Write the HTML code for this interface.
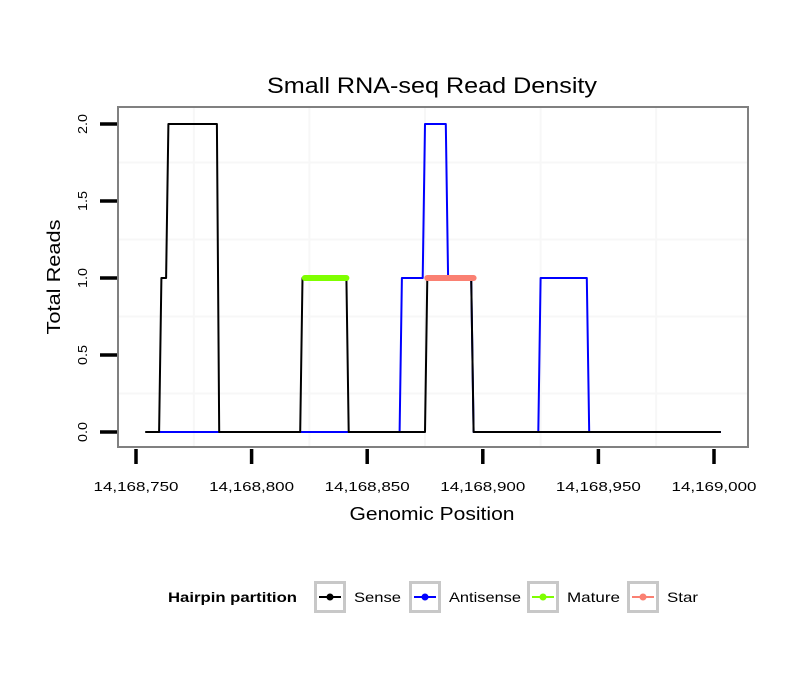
<!DOCTYPE html>
<html><head><meta charset="utf-8"><style>
body{margin:0;background:#fff;font-family:"Liberation Sans",sans-serif}
svg{display:block}
</style></head><body>
<svg id="chart" width="810" height="690" viewBox="0 0 810 690">
<rect width="810" height="690" fill="#fff"/>
<text x="432" y="93" text-anchor="middle" font-size="22" textLength="330" lengthAdjust="spacingAndGlyphs">Small RNA-seq Read Density</text>
<g id="grid"></g>
<g id="series"></g>
<rect x="118" y="107" width="630" height="340" fill="none" stroke="#808080" stroke-width="2"/>
<g id="axes"></g>
<text x="432" y="520" text-anchor="middle" font-size="18" textLength="165" lengthAdjust="spacingAndGlyphs">Genomic Position</text>
<text transform="translate(60,277) rotate(-90)" text-anchor="middle" font-size="18" textLength="115" lengthAdjust="spacingAndGlyphs">Total Reads</text>
<g>
<text x="168" y="602" font-size="14" font-weight="bold" textLength="129" lengthAdjust="spacingAndGlyphs">Hairpin partition</text>
<g id="legend"></g>
</g>
</svg>
<script>
const xTicks=[14168750,14168800,14168850,14168900,14168950,14169000];
const xTickLabels=["14,168,750","14,168,800","14,168,850","14,168,900","14,168,950","14,169,000"];
const xGrid=[14168775,14168825,14168875,14168925,14168975];
const yTicks=[0,0.5,1,1.5,2];
const yTickLabels=["0.0","0.5","1.0","1.5","2.0"];
const yGrid=[0.25,0.75,1.25,1.75];
const sensePos=[14168754,14168760,14168761,14168763,14168764,14168785,14168786,14168821,14168822,14168841,14168842,14168875,14168876,14168895,14168896,14169003];
const senseVal=[0,0,1,1,2,2,0,0,1,1,0,0,1,1,0,0];
const antiPos=[14168760,14168864,14168865,14168874,14168875,14168884,14168885,14168895,14168896,14168924,14168925,14168945,14168946,14169003];
const antiVal=[0,0,1,1,2,2,1,1,0,0,1,1,0,0];
const maturePos=[14168823,14168841];
const matureVal=[1,1];
const starPos=[14168876,14168896];
const starVal=[1,1];
const legendLabels=["Sense","Antisense","Mature","Star"];
const legendColors=["#000000","#0000ff","#7fff00","#fa8072"];
const legendLens=[47,72,53,31];

const NS="http://www.w3.org/2000/svg";
const X=v=>136+(v-14168750)*(578/250);
const Y=v=>432-v*154;
function mk(tag,attrs,parent){const e=document.createElementNS(NS,tag);for(const k in attrs)e.setAttribute(k,attrs[k]);parent.appendChild(e);return e;}
const grid=document.getElementById('grid'),series=document.getElementById('series'),axes=document.getElementById('axes'),legend=document.getElementById('legend');
xGrid.forEach(v=>{const l=mk('line',{x1:X(v),x2:X(v),y1:108,y2:446,stroke:'#f7f7f7','stroke-width':2},grid);

});
yGrid.forEach(v=>{const l=mk('line',{x1:119,x2:747,y1:Y(v),y2:Y(v),stroke:'#f7f7f7','stroke-width':2},grid);

});
function path(pos,val,color,w,name,cap){
const d=pos.map((p,i)=>(i?'L':'M')+X(p).toFixed(1)+','+Y(val[i]).toFixed(1)).join('');
const e=mk('path',{d:d,fill:'none',stroke:color,'stroke-width':w,'stroke-linecap':cap,'stroke-linejoin':'round'},series);

}
path(antiPos,antiVal,'#0000ff',2,'antisense-line','butt');
path(sensePos,senseVal,'#000000',2,'sense-line','butt');
path(maturePos,matureVal,'#7fff00',6,'mature-segment','round');
path(starPos,starVal,'#fa8072',6,'star-segment','round');
xTicks.forEach((v,i)=>{const t=mk('line',{x1:X(v),x2:X(v),y1:449,y2:464,stroke:'#000','stroke-width':3.5},axes);


const tx=mk('text',{x:X(v),y:491,'text-anchor':'middle','font-size':13,textLength:85,lengthAdjust:'spacingAndGlyphs'},axes);tx.textContent=xTickLabels[i];

});
yTicks.forEach((v,i)=>{const t=mk('line',{x1:100,x2:117,y1:Y(v),y2:Y(v),stroke:'#000','stroke-width':3.5},axes);


const tx=mk('text',{transform:`translate(87,${Y(v)}) rotate(-90)`,'text-anchor':'middle','font-size':13,textLength:20,lengthAdjust:'spacingAndGlyphs'},axes);tx.textContent=yTickLabels[i];

});
const boxX=[314,409,527,627];
legendLabels.forEach((lab,i)=>{const g=mk('g',{},legend);


const bx=boxX[i];
mk('rect',{x:bx+1.5,y:582.5,width:29,height:29,fill:'#fff',stroke:'#c8c8c8','stroke-width':3},g);
mk('line',{x1:bx+5,x2:bx+27,y1:597,y2:597,stroke:legendColors[i],'stroke-width':2},g);
mk('circle',{cx:bx+16,cy:597,r:3.5,fill:legendColors[i]},g);
const t=mk('text',{x:bx+40,y:602,'font-size':14,textLength:legendLens[i],lengthAdjust:'spacingAndGlyphs'},g);t.textContent=lab;});
</script>
</body></html>
